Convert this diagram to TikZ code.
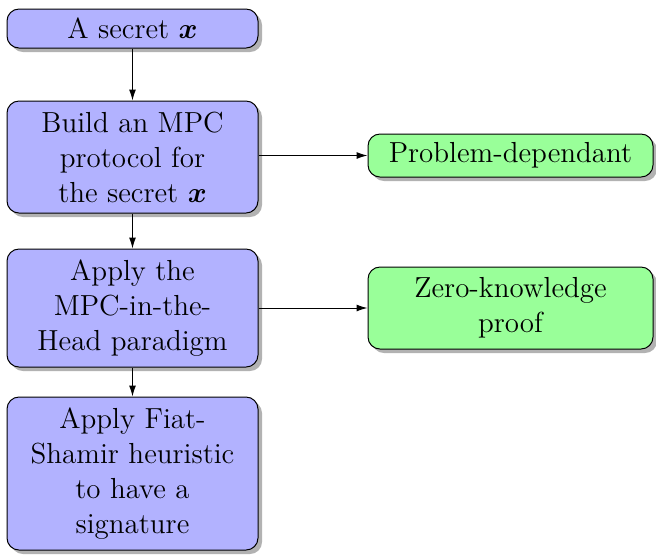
\documentclass[tikz,border=0pt]{standalone}
\usepackage{amsmath,bm}
\usetikzlibrary{shadows,arrows.meta}
\begin{document}
\begin{tikzpicture}[x=0.5pt,y=-0.5pt,
  box/.style={draw=black, line width=0.5pt, rounded corners=6pt, align=center,
    inner sep=0pt, font=\fontsize{14.5}{17.5}\selectfont,
    drop shadow={shadow xshift=2pt, shadow yshift=-2pt, fill=black, opacity=0.3}},
  stepbox/.style={box, fill=blue!30, minimum width=125.5pt},
  resultbox/.style={box, fill=green!40, minimum width=142.5pt},
  link/.style={-{Latex[length=5.5pt,width=3.5pt]}, line width=0.5pt}]
  \useasboundingbox (0,0) rectangle (656,554);
  \node[stepbox, minimum height=19.5pt] (secret) at (132.5,28.5) {A secret $\bm{x}$};
  \node[stepbox, minimum height=56pt] (mpc) at (132.5,157) {Build an MPC\\protocol for\\the secret $\bm{x}$};
  \node[stepbox, minimum height=59pt] (mpcith) at (132.5,308) {Apply the\\MPC-in-the-\\Head paradigm};
  \node[stepbox, minimum height=76.5pt] (fs) at (132.5,473.5) {Apply Fiat-\\Shamir heuristic\\to have a\\signature};
  \node[resultbox, minimum height=21.5pt] (dep) at (510.5,155.5) {Problem-dependant};
  \node[resultbox, minimum height=41pt] (zk) at (510.5,308) {Zero-knowledge\\proof};
  \draw[link] (secret) -- (mpc);
  \draw[link] (mpc) -- (mpcith);
  \draw[link] (mpcith) -- (fs);
  \draw[link] (dep.west -| mpc.east) -- (dep.west);
  \draw[link] (zk.west -| mpcith.east) -- (zk.west);
\end{tikzpicture}
\end{document}
